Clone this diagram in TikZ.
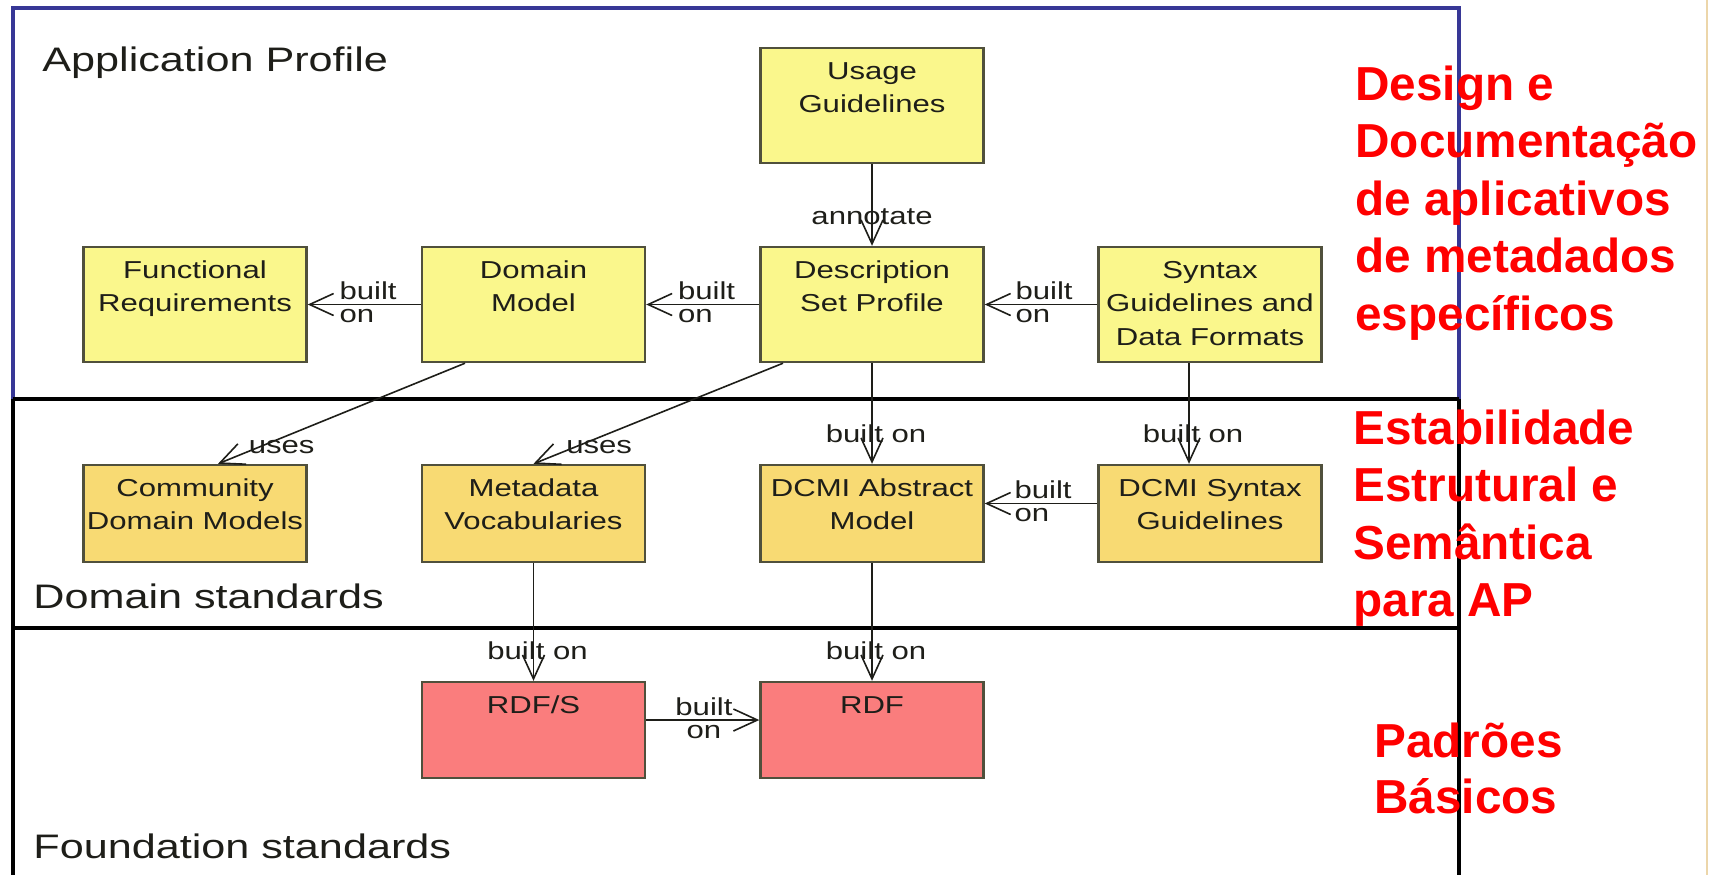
\documentclass[tikz,border=0pt]{standalone}
\usepackage{fontspec}
\setmainfont{Liberation Sans}
\newfontfamily\diagfont[FakeStretch=1.27]{Liberation Sans}
\usetikzlibrary{arrows.meta}

\definecolor{apblue}{RGB}{55,55,150}
\definecolor{boxline}{RGB}{80,80,60}
\definecolor{apfill}{RGB}{250,247,140}
\definecolor{domfill}{RGB}{248,218,115}
\definecolor{fndfill}{RGB}{250,125,125}
\definecolor{ink}{RGB}{30,30,25}
\definecolor{slideedge}{RGB}{236,214,170}

% text of a box, set from the top
\newcommand{\cell}[2]{\parbox[t][#1][t]{111.5pt}{\centering\rule{0pt}{15.5pt}#2}}

\begin{document}
\begin{tikzpicture}[x=0.5pt,y=-0.5pt,
  box/.style={draw=boxline,line width=1.2pt,inner sep=0pt,text=ink,
    font=\diagfont\fontsize{12.25}{16.75}\selectfont},
  apbox/.style={box,fill=apfill},
  dombox/.style={box,fill=domfill},
  fndbox/.style={box,fill=fndfill},
  arr/.style={draw=ink,line width=0.8pt,-{Straight Barb[length=12pt,width=11pt]}},
  lbl/.style={text=ink,inner sep=0pt,align=left,
    font=\diagfont\fontsize{12.25}{11.5}\selectfont},
  layername/.style={text=ink,inner sep=0pt,anchor=base west,
    font=\diagfont\fontsize{17}{20}\selectfont},
  redtext/.style={text=red,inner sep=0pt,anchor=base west,
    font=\bfseries\fontsize{23.85}{28.75}\selectfont}]

\useasboundingbox (0,0) rectangle (1716,875);

%FRAME
% application profile, blue
\draw[apblue,line width=2pt] (13,399) -- (13,8) -- (1459,8) -- (1459,399);
% standards layers, black
\draw[black,line width=2.2pt] (13,399) -- (13,875) (1459,399) -- (1459,875);
\draw[black,line width=2.2pt] (13,399) -- (1459,399);
\draw[black,line width=2.2pt] (13,628) -- (1459,628);
% edge of the slide
\draw[slideedge,line width=0.8pt] (1707,0) -- (1707,875);

\node[layername] (ap-name) at (42,71) {Application Profile};
\node[layername] (ds-name) at (33,608) {Domain standards};
\node[layername] (fs-name) at (33,858) {Foundation standards};

%BOXES
% application profile
\node[apbox] (usage) at (872,105.5) {\cell{57.5pt}{Usage\\Guidelines}};
\node[apbox] (fr) at (195,304.5) {\cell{57.5pt}{Functional\\Requirements}};
\node[apbox] (dm) at (533.5,304.5) {\cell{57.5pt}{Domain\\Model}};
\node[apbox] (dsp) at (872,304.5) {\cell{57.5pt}{Description\\Set Profile}};
\node[apbox] (syn) at (1210,304.5) {\cell{57.5pt}{Syntax\\Guidelines and\\Data Formats}};
% domain standards
\node[dombox] (cdm) at (195,513.5) {\cell{48.5pt}{Community\\Domain Models}};
\node[dombox] (meta) at (533.5,513.5) {\cell{48.5pt}{Metadata\\Vocabularies}};
\node[dombox] (dam) at (872,513.5) {\cell{48.5pt}{DCMI Abstract\\Model}};
\node[dombox] (dsyn) at (1210,513.5) {\cell{48.5pt}{DCMI Syntax\\Guidelines}};
% foundation standards
\node[fndbox] (rdfs) at (533.5,730) {\cell{48pt}{RDF/S}};
\node[fndbox] (rdf) at (872,730) {\cell{48pt}{RDF}};

%ARROWS
\draw[arr] (usage) -- (dsp) node[lbl,pos=1,yshift=14.5pt] {annotate};
\draw[arr] (dm) -- (fr) node[lbl,pos=1,anchor=west,xshift=15.5pt,yshift=1pt] {built\\on};
\draw[arr] (dsp) -- (dm) node[lbl,pos=1,anchor=west,xshift=15.5pt,yshift=1pt] {built\\on};
\draw[arr] (syn) -- (dsp) node[lbl,pos=1,anchor=west,xshift=15pt,yshift=1pt] {built\\on};
% uses
\draw[arr] ([xshift=-34.25pt]dm.south) -- ([xshift=11.5pt]cdm.north)
  node[lbl,pos=1,anchor=west,xshift=15pt,yshift=8.5pt] {uses};
\draw[arr] ([xshift=-44.5pt]dsp.south) -- (meta.north)
  node[lbl,pos=1,anchor=west,xshift=16pt,yshift=8.5pt] {uses};
% down to the standards
\draw[arr] (dsp) -- (dam) node[lbl,pos=1,xshift=2pt,yshift=15pt] {built on};
\draw[arr] ([xshift=-10.5pt]syn.south) -- ([xshift=-10.5pt]dsyn.north)
  node[lbl,pos=1,xshift=2pt,yshift=15pt] {built on};
\draw[arr] ([yshift=5pt]dsyn.west) -- ([yshift=5pt]dam.east)
  node[lbl,pos=1,anchor=west,xshift=14.5pt,yshift=1pt] {built\\on};
\draw[arr] (meta) -- (rdfs) node[lbl,pos=1,xshift=2pt,yshift=15pt] {built on};
\draw[arr] (dam) -- (rdf) node[lbl,pos=1,xshift=2pt,yshift=15pt] {built on};
\draw[arr] ([yshift=5pt]rdfs.east) -- ([yshift=5pt]rdf.west)
  node[lbl,pos=1,anchor=east,xshift=-13pt,yshift=1pt,align=center] {built\\on};

%NOTES
\foreach \t [count=\i from 0] in {Design e,Documentação,de aplicativos,de metadados,específicos}
  \node[redtext] (design-\i) at (1355,{100+57.5*\i}) {\t};
\foreach \t [count=\i from 0] in {Estabilidade,Estrutural e,Semântica,para AP}
  \node[redtext] (estab-\i) at (1353,{444+57.5*\i}) {\t};
\foreach \t [count=\i from 0] in {Padrões,Básicos}
  \node[redtext] (basic-\i) at (1374,{757+56*\i}) {\t};

\end{tikzpicture}
\end{document}
